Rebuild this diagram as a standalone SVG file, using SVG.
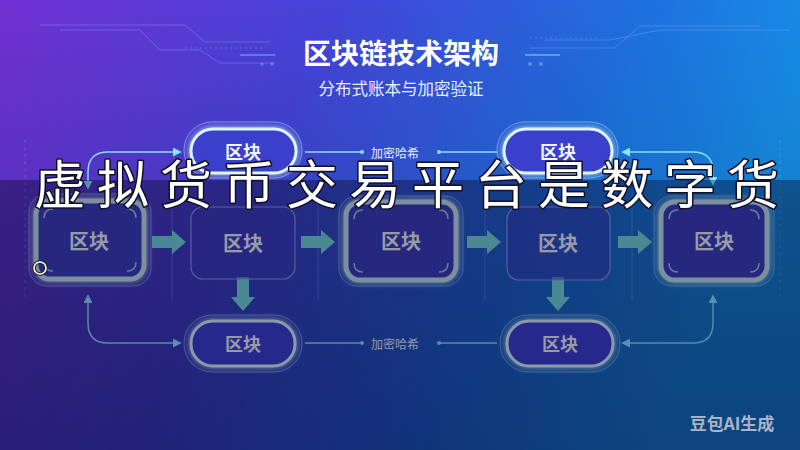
<svg xmlns="http://www.w3.org/2000/svg" width="800" height="450" viewBox="0 0 800 450">
<defs>
<linearGradient id="bg" x1="0" y1="0" x2="1" y2="0.25">
<stop offset="0" stop-color="#7230d4"/>
<stop offset="0.4" stop-color="#4444d8"/>
<stop offset="0.75" stop-color="#1f6fe0"/>
<stop offset="1" stop-color="#1690e8"/>
</linearGradient>
<linearGradient id="vshade" x1="0" y1="0" x2="0" y2="1">
<stop offset="0" stop-color="#000" stop-opacity="0"/>
<stop offset="1" stop-color="#000028" stop-opacity="0.25"/>
</linearGradient>
<marker id="ah" viewBox="0 0 10 10" refX="8" refY="5" markerWidth="9" markerHeight="9" markerUnits="userSpaceOnUse" orient="auto-start-reverse">
<path d="M0,0 L10,5 L0,10 Z" fill="#8ae6ff"/>
</marker>
<path id="barrow" d="M0,-6 H20 V-12 L34,0 L20,12 V6 H0 Z"/>
<filter id="glow" x="-30%" y="-30%" width="160%" height="160%">
<feGaussianBlur stdDeviation="3" result="b"/>
<feMerge><feMergeNode in="b"/><feMergeNode in="SourceGraphic"/></feMerge>
</filter>
</defs>
<style>
.pill{fill:#3a40cc;stroke:#dcf6ff;stroke-width:3}
.ring{fill:none;stroke:#8fd8ff;stroke-width:1;opacity:0.55}
.gbox{fill:#3a3cb6;stroke:#c4e4ea;stroke-width:5}
.tbox{fill:#3a3ab8;fill-opacity:0.5;stroke:#8a96ee;stroke-width:1.2}
.ntxt{font-family:"Noto Sans CJK SC","Noto Sans",sans-serif;font-weight:700;fill:#f2f6fa;text-anchor:middle;dominant-baseline:central}
.conn{fill:none;stroke:#8adcf6;stroke-width:1.5}
.lbl{font-family:"Noto Sans CJK SC","Noto Sans",sans-serif;font-size:12px;fill:#e6ecff;text-anchor:middle;dominant-baseline:central}
.bar{fill:#74dada}
.deco{fill:none;stroke:#8fb0ff;stroke-width:1;opacity:0.35}
.brk{fill:none;stroke:#c8e8ee;stroke-width:1.5;opacity:0.8}
</style>
<rect width="800" height="450" fill="url(#bg)"/>
<rect width="800" height="450" fill="url(#vshade)"/>
<g id="decoration">
<path class="deco" d="M40,25 H185 L205,42 H270"/>
<path class="deco" d="M60,30 H140 L160,50 H200 L220,63 H275"/>
<path class="deco" d="M185,48 H265" stroke-dasharray="2 3"/>
<path d="M240,55 H275" stroke="#6ea0ff" stroke-width="2" opacity="0.6"/>
<circle cx="262" cy="64" r="1.8" fill="#6ea0ff" opacity="0.6"/>
<circle cx="272" cy="64" r="1.8" fill="#6ea0ff" opacity="0.6"/>
<path class="deco" d="M530,48 H615 L640,26 H760"/>
<path class="deco" d="M545,40 H610 L660,30 H790"/>
<path class="deco" d="M530,38 H600" stroke-dasharray="2 3"/>
<path d="M525,55 H560" stroke="#6ec8ff" stroke-width="2" opacity="0.6"/>
<circle cx="530" cy="64" r="1.8" fill="#6ec8ff" opacity="0.6"/>
<circle cx="541" cy="64" r="1.8" fill="#6ec8ff" opacity="0.6"/>
<path class="deco" d="M25,140 V300" stroke-dasharray="3 4"/>
<path class="deco" d="M172,190 V300"/>
<path class="deco" d="M318,190 V300"/>
<path class="deco" d="M485,190 V300"/>
<path class="deco" d="M632,190 V300"/>
<path class="deco" d="M780,140 V300" stroke-dasharray="3 4"/>
</g>
<text x="401" y="52" font-family="'Noto Sans CJK SC','Noto Sans',sans-serif" font-size="28" font-weight="700" fill="#ffffff" text-anchor="middle" dominant-baseline="central">区块链技术架构</text>
<text x="401" y="88" font-family="'Noto Sans CJK SC','Noto Sans',sans-serif" font-size="16.5" fill="#e8eeff" text-anchor="middle" dominant-baseline="central">分布式账本与加密验证</text>
<g id="connectors">
<path class="conn" d="M88,188 V172 Q88,152 108,152 H180" marker-start="url(#ah)" marker-end="url(#ah)"/>
<path class="conn" d="M305,152 H362"/><circle cx="362" cy="152" r="2" fill="#8adcf6"/>
<path class="conn" d="M439,152 H497"/><circle cx="439" cy="152" r="2" fill="#8adcf6"/>
<path class="conn" d="M713,184 V172 Q713,152 693,152 H623" marker-start="url(#ah)" marker-end="url(#ah)"/>
<path class="conn" d="M88,296 V323 Q88,343 108,343 H180" marker-start="url(#ah)" marker-end="url(#ah)"/>
<path class="conn" d="M305,343 H362"/><circle cx="362" cy="343" r="2" fill="#8adcf6"/>
<path class="conn" d="M439,343 H497"/><circle cx="439" cy="343" r="2" fill="#8adcf6"/>
<path class="conn" d="M713,296 V323 Q713,343 693,343 H623" marker-start="url(#ah)" marker-end="url(#ah)"/>
<text class="lbl" x="395" y="152">加密哈希</text>
<text class="lbl" x="395" y="343">加密哈希</text>
<use href="#barrow" class="bar" x="152" y="242"/>
<use href="#barrow" class="bar" x="301" y="242"/>
<use href="#barrow" class="bar" x="467" y="242"/>
<use href="#barrow" class="bar" x="618" y="242"/>
<use href="#barrow" class="bar" transform="translate(243,277) rotate(90)"/>
<use href="#barrow" class="bar" transform="translate(558,277) rotate(90)"/>
</g>
<g id="top-block-1">
<rect class="ring" x="184" y="122" width="118" height="56" rx="28"/>
<rect class="pill" x="191" y="129" width="105" height="44" rx="22" filter="url(#glow)"/>
<text class="ntxt" x="243" y="151" font-size="18">区块</text>
</g>
<g id="top-block-2">
<rect class="ring" x="497" y="122" width="121" height="56" rx="28"/>
<rect class="pill" x="504" y="129" width="108" height="44" rx="22" filter="url(#glow)"/>
<text class="ntxt" x="558" y="151" font-size="18">区块</text>
</g>
<g id="block-1">
<rect class="ring" x="29" y="194" width="122" height="92" rx="18"/>
<rect class="gbox" x="36" y="201" width="108" height="78" rx="14" filter="url(#glow)"/>
<path class="brk" d="M44,218 Q44,209 53,209 M127,209 Q136,209 136,218 M136,262 Q136,271 127,271 M53,271 Q44,271 44,262"/>
<text class="ntxt" x="89" y="240" font-size="20">区块</text>
</g>
<g id="block-2">
<rect class="tbox" x="191" y="207" width="104" height="72" rx="12"/>
<text class="ntxt" x="243" y="242" font-size="20">区块</text>
</g>
<g id="block-3">
<rect class="ring" x="339" y="196" width="124" height="90" rx="18"/>
<rect class="gbox" x="346" y="202" width="110" height="78" rx="14" filter="url(#glow)"/>
<path class="brk" d="M354,219 Q354,210 363,210 M439,210 Q448,210 448,219 M448,263 Q448,272 439,272 M363,272 Q354,272 354,263"/>
<text class="ntxt" x="401" y="240" font-size="20">区块</text>
</g>
<g id="block-4">
<rect class="tbox" x="507" y="207" width="103" height="73" rx="12"/>
<text class="ntxt" x="558" y="242" font-size="20">区块</text>
</g>
<g id="block-5">
<rect class="ring" x="654" y="196" width="120" height="90" rx="18"/>
<rect class="gbox" x="661" y="202" width="106" height="78" rx="14" filter="url(#glow)"/>
<path class="brk" d="M669,219 Q669,210 678,210 M750,210 Q759,210 759,219 M759,263 Q759,272 750,272 M678,272 Q669,272 669,263"/>
<text class="ntxt" x="714" y="240" font-size="20">区块</text>
</g>
<g id="bottom-block-1">
<rect class="ring" x="184" y="315" width="118" height="57" rx="28"/>
<rect class="pill" x="191" y="321" width="104" height="45" rx="22" filter="url(#glow)"/>
<text class="ntxt" x="243" y="343" font-size="18">区块</text>
</g>
<g id="bottom-block-2">
<rect class="ring" x="500" y="315" width="120" height="57" rx="28"/>
<rect class="pill" x="507" y="321" width="106" height="45" rx="22" filter="url(#glow)"/>
<text class="ntxt" x="560" y="343" font-size="18">区块</text>
</g>
<rect x="0" y="180" width="800" height="270" fill="#050522" opacity="0.38"/>
<circle cx="40" cy="268" r="6" fill="none" stroke="#222" stroke-width="3.5"/>
<circle cx="40" cy="268" r="6" fill="none" stroke="#ffffff" stroke-width="1.6"/>
<text x="732" y="422" font-family="'Noto Sans CJK SC','Noto Sans',sans-serif" font-size="17" font-weight="700" fill="#aab4c6" text-anchor="middle" dominant-baseline="central">豆包AI生成</text>
<text x="34" y="204" font-family="'Noto Sans CJK SC','Noto Sans',sans-serif" font-size="52" fill="#ffffff" stroke="#101028" stroke-width="3" paint-order="stroke" stroke-linejoin="round" textLength="745" lengthAdjust="spacing">虚拟货币交易平台是数字货</text>
</svg>
